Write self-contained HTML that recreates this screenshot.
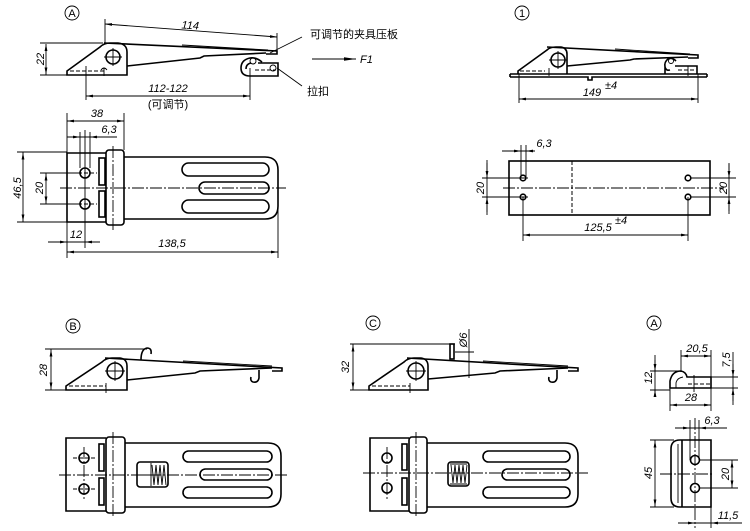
<!DOCTYPE html>
<html><head><meta charset="utf-8"><style>
html,body{margin:0;padding:0;background:#fff;}
svg{display:block;}
text{font-family:"Liberation Sans","Noto Sans CJK SC",sans-serif;font-size:11px;fill:#000;}
.i{font-style:italic;}
.o{fill:none;stroke:#000;stroke-width:1.6;}
.d{fill:none;stroke:#000;stroke-width:0.9;}
.c{fill:none;stroke:#000;stroke-width:0.9;stroke-dasharray:12 2 2 2;}
.h{fill:none;stroke:#000;stroke-width:1;stroke-dasharray:4 2;}
.w{fill:#fff;stroke:#000;stroke-width:1.6;}
</style></head><body>
<svg width="750" height="531" viewBox="0 0 750 531" xmlns="http://www.w3.org/2000/svg">
<defs>
<marker id="a" viewBox="0 0 10 10" refX="10" refY="5" markerWidth="7" markerHeight="7" orient="auto-start-reverse" markerUnits="userSpaceOnUse"><path d="M0,3 L10,5 L0,7 Z" fill="#000"/></marker>
<marker id="b" viewBox="0 0 10 10" refX="10" refY="5" markerWidth="12" markerHeight="12" orient="auto" markerUnits="userSpaceOnUse"><path d="M0,3.5 L10,5 L0,6.5 Z" fill="#000"/></marker>
</defs>

<!-- ========== TOP-LEFT SIDE VIEW (A) ========== -->
<circle cx="72" cy="13" r="7" class="d" stroke-width="1.1"/>
<text x="72" y="17" text-anchor="middle" font-size="11">A</text>
<path class="o" d="M67,75 L67,71 L100,47 Q104,43 110,43 L118,43 Q127,44 127,52 L127,75 Z"/>
<circle cx="113" cy="57" r="7" class="o"/>
<path class="d" d="M113,48 V66 M104,57 H122"/>
<path class="h" d="M70,71 H104"/>
<path class="d" d="M104,68 V76 M101,70 Q104,66 107,70"/>
<path class="o" d="M104,43 L277,51 L277,54 L266,54"/>
<path class="d" d="M182,45 L268,50"/>
<path class="o" d="M127,66 L200,58 L204,56 L266,53"/>
<path class="o" d="M262,62 Q256,57 250,58 Q241,60 241,68 Q241,76 250,76 L278,76 L278,63 L258,63"/>
<path class="o" d="M246,69 Q246,64 251,63"/>
<circle cx="253" cy="61" r="3" class="d"/>
<circle cx="273" cy="68" r="3" class="d"/>
<path class="h" d="M255,70 H276"/>
<path class="d" d="M40,43 H103 M40,75 H67"/>
<line x1="46" y1="44" x2="46" y2="74.5" class="d" marker-start="url(#a)" marker-end="url(#a)"/>
<text class="i" transform="translate(44,59) rotate(-90)" text-anchor="middle">22</text>
<path class="d" d="M105,19 V44 M277,33 V51"/>
<line x1="105" y1="24" x2="277" y2="37" class="d" marker-start="url(#a)" marker-end="url(#a)"/>
<text class="i" transform="translate(190,29) rotate(4)" text-anchor="middle">114</text>
<path class="d" d="M86,66 V100 M250,68 V100"/>
<line x1="86" y1="96" x2="250" y2="96" class="d" marker-start="url(#a)" marker-end="url(#a)"/>
<text class="i" x="168" y="92" text-anchor="middle">112-122</text>
<text x="168" y="108" text-anchor="middle">(可调节)</text>
<path class="d" d="M302,37 L270,53"/>
<text x="310" y="38" font-size="12">可调节的夹具压板</text>
<line x1="312" y1="59" x2="356" y2="59" class="d" stroke-width="1.4" marker-end="url(#b)"/>
<text class="i" x="360" y="63">F1</text>
<path class="d" d="M302,86 L277,68"/>
<text x="307" y="95" font-size="12">拉扣</text>

<!-- ========== TOP-LEFT PLAN ========== -->
<path class="o" d="M107,153 H67 V222 H107"/>
<rect x="106" y="150" width="18" height="75" rx="3" class="w"/>
<path class="o" d="M124,157 H265 Q278,157 278,170 V206 Q278,219 265,219 H124"/>
<rect x="182" y="163" width="87" height="13" rx="6.5" class="o"/>
<rect x="199" y="182" width="70" height="12" rx="6" class="o"/>
<rect x="182" y="200" width="87" height="13" rx="6.5" class="o"/>
<rect x="99" y="158" width="6" height="27" class="o" stroke-width="1.1"/>
<rect x="99" y="191" width="6" height="26" class="o" stroke-width="1.1"/>
<circle cx="85" cy="173" r="5" class="o"/>
<circle cx="85" cy="204" r="5" class="o"/>
<path class="h" d="M78,173 H97 M78,204 H97"/>
<path class="c" d="M60,188 H286"/>
<path class="c" d="M113,146 V231"/>
<path class="d" d="M85,130 V248"/>
<path class="d" d="M80,132 V168 M90,132 V168"/>
<path class="d" d="M67,113 V258 M124,113 V150"/>
<line x1="67" y1="121" x2="124" y2="121" class="d" marker-start="url(#a)" marker-end="url(#a)"/>
<text class="i" x="97" y="117" text-anchor="middle">38</text>
<path class="d" d="M67,137 H117"/>
<line x1="70" y1="137" x2="80" y2="137" class="d" marker-end="url(#a)"/>
<line x1="100" y1="137" x2="90" y2="137" class="d" marker-end="url(#a)"/>
<text class="i" x="109" y="133" text-anchor="middle">6,3</text>
<path class="d" d="M17,152 H67 M17,222 H67"/>
<line x1="23" y1="152.5" x2="23" y2="221.5" class="d" marker-start="url(#a)" marker-end="url(#a)"/>
<text class="i" transform="translate(21,188) rotate(-90)" text-anchor="middle">46,5</text>
<path class="d" d="M40,173 H80 M40,204 H80"/>
<line x1="46" y1="173.5" x2="46" y2="203.5" class="d" marker-start="url(#a)" marker-end="url(#a)"/>
<text class="i" transform="translate(43,188) rotate(-90)" text-anchor="middle">20</text>
<path class="d" d="M48,242 H100"/>
<line x1="52" y1="242" x2="67" y2="242" class="d" marker-end="url(#a)"/>
<line x1="98" y1="242" x2="85" y2="242" class="d" marker-end="url(#a)"/>
<text class="i" x="76" y="238" text-anchor="middle">12</text>
<path class="d" d="M278,200 V258"/>
<line x1="67" y1="252" x2="278" y2="252" class="d" marker-start="url(#a)" marker-end="url(#a)"/>
<text class="i" x="172" y="247" text-anchor="middle">138,5</text>

<!-- ========== TOP-RIGHT SIDE VIEW (1) ========== -->
<circle cx="522" cy="13" r="7" class="d" stroke-width="1.1"/>
<text x="522" y="17" text-anchor="middle" font-size="11">1</text>
<path class="o" d="M510,74 H707 M510,77 H588 V80 H592 V77 H707 M510,74 V77 M707,74 V77"/>
<path class="o" d="M518,74 L518,71 L547,50 Q550,47 556,47 L561,47 Q567,48 567,54 L567,74"/>
<circle cx="558" cy="60" r="7" class="o"/>
<path class="d" d="M558,51 V69 M549,60 H567"/>
<path class="h" d="M520,71 H545"/>
<path class="d" d="M549,68 V76"/>
<path class="o" d="M547,47 L698,55 L698,58 L688,58"/>
<path class="d" d="M615,49 L690,54"/>
<path class="o" d="M567,66 L630,60 L634,59 L688,57"/>
<path class="o" d="M676,61 Q672,57 668,59 Q664,62 665,67 Q666,71 670,70 M665,67 L665,74"/>
<circle cx="671" cy="61" r="2.5" class="d"/>
<path class="o" d="M675,66 H697 V74"/>
<path class="h" d="M678,70 H696"/>
<path class="d" d="M688,66 V76"/>
<path class="d" d="M519,74 V103 M698,74 V103"/>
<line x1="519" y1="99" x2="698" y2="99" class="d" marker-start="url(#a)" marker-end="url(#a)"/>
<text class="i" x="592" y="96" text-anchor="middle">149</text>
<text class="i" x="605" y="89" font-size="8">±4</text>

<!-- ========== RIGHT PLAN ========== -->
<rect x="509" y="161" width="201" height="54" class="o"/>
<path class="h" d="M572,161 V215"/>
<circle cx="523" cy="178" r="2.8" class="o"/>
<circle cx="523" cy="197" r="2.8" class="o"/>
<circle cx="688" cy="178" r="2.8" class="o"/>
<circle cx="688" cy="197" r="2.8" class="o"/>
<path class="c" d="M503,188 H724"/>
<path class="d" d="M521,145 V178 M526,145 V178 M502,151 H535"/>
<line x1="506" y1="151" x2="521" y2="151" class="d" marker-end="url(#a)"/>
<line x1="535" y1="151" x2="526" y2="151" class="d" marker-end="url(#a)"/>
<text class="i" x="544" y="147" text-anchor="middle">6,3</text>
<path class="d" d="M482,178 H528 M482,197 H528 M487,160 V215"/>
<line x1="487" y1="163" x2="487" y2="178" class="d" marker-end="url(#a)"/>
<line x1="487" y1="212" x2="487" y2="197" class="d" marker-end="url(#a)"/>
<text class="i" transform="translate(484,188) rotate(-90)" text-anchor="middle">20</text>
<path class="d" d="M690,178 H736 M690,197 H736 M729,163 V214"/>
<line x1="729" y1="164" x2="729" y2="178" class="d" marker-end="url(#a)"/>
<line x1="729" y1="211" x2="729" y2="197" class="d" marker-end="url(#a)"/>
<text class="i" transform="translate(727,188) rotate(-90)" text-anchor="middle">20</text>
<path class="d" d="M523,197 V241 M688,197 V241"/>
<line x1="523" y1="235" x2="688" y2="235" class="d" marker-start="url(#a)" marker-end="url(#a)"/>
<text class="i" x="598" y="231" text-anchor="middle">125,5</text>
<text class="i" x="615" y="224" font-size="8">±4</text>

<!-- ========== B SIDE ========== -->
<circle cx="73" cy="326" r="7" class="d" stroke-width="1.1"/>
<text x="73" y="330" text-anchor="middle" font-size="11">B</text>
<path class="o" d="M66,390 L66,386 L102,362 Q106,358 112,358 L120,358 Q127,359 127,366 L127,390 Z"/>
<circle cx="115" cy="371" r="8" class="o"/>
<path class="d" d="M115,361 V381 M105,371 H125"/>
<path class="h" d="M69,386 H106"/>
<path class="d" d="M106,383 V393"/>
<path class="o" d="M105,358 L282,368 L282,371 L272,371"/>
<path class="d" d="M183,361 L272,366"/>
<path class="o" d="M127,380 L195,373 L200,371 L272,368"/>
<path class="o" d="M141,360 Q141,349 147,348 Q152,348 151,354"/>
<path class="o" d="M259,370 L259,378 Q258,383 253,382 Q250,381 251,377"/>
<path class="d" d="M45,349 H147 M45,390 H66"/>
<line x1="51" y1="349.5" x2="51" y2="389.5" class="d" marker-start="url(#a)" marker-end="url(#a)"/>
<text class="i" transform="translate(47,370) rotate(-90)" text-anchor="middle">28</text>

<!-- ========== B PLAN ========== -->
<path class="o" d="M106,438 H66 V511 H106"/>
<rect x="106" y="437" width="19" height="76" rx="3" class="w"/>
<path class="o" d="M125,443 H268 Q281,443 281,456 V494 Q281,507 268,507 H125"/>
<rect x="183" y="451" width="89" height="11" rx="5.5" class="o"/>
<rect x="200" y="469" width="72" height="11" rx="5.5" class="o"/>
<rect x="183" y="487" width="89" height="11" rx="5.5" class="o"/>
<rect x="99" y="444" width="5" height="27" class="o" stroke-width="1.1"/>
<rect x="99" y="478" width="5" height="27" class="o" stroke-width="1.1"/>
<circle cx="84" cy="458" r="5" class="o"/>
<circle cx="84" cy="489" r="5" class="o"/>
<path class="h" d="M73,458 H97 M73,489 H97"/>
<path class="c" d="M84,447 V501"/>
<path class="c" d="M113,432 V518"/>
<rect x="137" y="462" width="31" height="25" rx="3" class="w"/>
<path class="d" d="M151,463 V486 M141,475 H149"/>
<polyline class="d" points="152,465 154,485 156,465 158,485 160,465 162,485 164,465 166,485"/>
<path class="c" d="M59,475 H289"/>

<!-- ========== C SIDE ========== -->
<circle cx="373" cy="323" r="7" class="d" stroke-width="1.1"/>
<text x="373" y="327" text-anchor="middle" font-size="11">C</text>
<path class="o" d="M369,390 L369,386 L404,362 Q408,358 414,358 L421,358 Q428,359 428,366 L428,390 Z"/>
<circle cx="416" cy="371" r="8" class="o"/>
<path class="d" d="M416,361 V381 M406,371 H426"/>
<path class="h" d="M372,386 H410"/>
<path class="d" d="M410,383 V393"/>
<path class="o" d="M407,358 L578,368 L578,371 L568,371"/>
<path class="d" d="M483,361 L568,366"/>
<path class="o" d="M428,379 L495,373 L500,371 L568,368"/>
<rect x="450" y="344" width="4" height="15" class="w"/>
<path class="o" d="M557,370 L557,378 Q556,383 551,382 Q548,381 549,377"/>
<path class="d" d="M350,344 H455 M350,390 H369"/>
<line x1="353" y1="344.5" x2="353" y2="389.5" class="d" marker-start="url(#a)" marker-end="url(#a)"/>
<text class="i" transform="translate(349,367) rotate(-90)" text-anchor="middle">32</text>
<path class="d" d="M455,352 H474 M469,329 V378"/>
<text class="i" transform="translate(467,340) rotate(-90)" text-anchor="middle">Ø6</text>

<!-- ========== C PLAN ========== -->
<path class="o" d="M409,438 H370 V511 H409"/>
<rect x="409" y="437" width="18" height="76" rx="3" class="w"/>
<path class="o" d="M427,443 H565 Q578,443 578,456 V494 Q578,507 565,507 H427"/>
<rect x="483" y="451" width="87" height="11" rx="5.5" class="o"/>
<rect x="502" y="469" width="68" height="11" rx="5.5" class="o"/>
<rect x="483" y="487" width="87" height="11" rx="5.5" class="o"/>
<rect x="402" y="444" width="5" height="26" class="o" stroke-width="1.1"/>
<rect x="402" y="478" width="5" height="27" class="o" stroke-width="1.1"/>
<circle cx="387" cy="458" r="5" class="o"/>
<circle cx="387" cy="488" r="5" class="o"/>
<path class="c" d="M387,447 V500"/>
<path class="c" d="M416,432 V518"/>
<rect x="448" y="462" width="21" height="24" rx="3" class="w"/>
<polyline class="d" points="451,465 453,483 455,465 457,483 459,465 461,483 463,465 465,483 467,465"/>
<path class="d" d="M450,464 H467 M450,484 H467"/>
<path class="c" d="M363,473 H588"/>

<!-- ========== A DETAIL (right) ========== -->
<circle cx="654" cy="323" r="7" class="d" stroke-width="1.1"/>
<text x="654" y="327" text-anchor="middle" font-size="11">A</text>
<path class="o" d="M711,377 L687,377 Q686,372 681,371 Q672,371 670,381 L670,388 L711,388 Z"/>
<path class="d" d="M676,388 L676,383 Q677,378 683,377"/>
<path class="h" d="M688,384 H711"/>
<path class="d" d="M694,375 V392"/>
<path class="d" d="M681,350 V372 M711,350 V390"/>
<line x1="681" y1="356" x2="711" y2="356" class="d" marker-start="url(#a)" marker-end="url(#a)"/>
<text class="i" x="697" y="352" text-anchor="middle">20,5</text>
<path class="d" d="M711,377 H738 M711,388 H738 M733,352 V405"/>
<line x1="733" y1="364" x2="733" y2="377" class="d" marker-end="url(#a)"/>
<line x1="733" y1="401" x2="733" y2="388" class="d" marker-end="url(#a)"/>
<text class="i" transform="translate(730,360) rotate(-90)" text-anchor="middle">7,5</text>
<path class="d" d="M650,371 H681 M650,390 H670 M655,355 V397"/>
<line x1="655" y1="360" x2="655" y2="371" class="d" marker-end="url(#a)"/>
<line x1="655" y1="397" x2="655" y2="390" class="d" marker-end="url(#a)"/>
<text class="i" transform="translate(652,378) rotate(-90)" text-anchor="middle">12</text>
<path class="d" d="M670,388 V411 M711,390 V411"/>
<line x1="670" y1="405" x2="711" y2="405" class="d" marker-start="url(#a)" marker-end="url(#a)"/>
<text class="i" x="691" y="401" text-anchor="middle">28</text>
<path class="o" d="M711,440 L680,440 Q671,440 671,449 L671,498 Q671,507 680,507 L711,507 Z"/>
<path class="d" d="M678,444 V503"/>
<path class="o" d="M682,440 V507"/>
<circle cx="695" cy="460" r="4.5" class="o"/>
<circle cx="695" cy="488" r="4.5" class="o"/>
<path class="c" d="M695,418 V528"/>
<path class="c" d="M660,474 H712"/>
<path class="h" d="M700,460 H711 M700,488 H711"/>
<path class="d" d="M650,440 H674 M650,507 H674"/>
<line x1="655" y1="440.5" x2="655" y2="506.5" class="d" marker-start="url(#a)" marker-end="url(#a)"/>
<text class="i" transform="translate(652,473) rotate(-90)" text-anchor="middle">45</text>
<path class="d" d="M700,460 H738 M700,488 H738"/>
<line x1="732" y1="460.5" x2="732" y2="487.5" class="d" marker-start="url(#a)" marker-end="url(#a)"/>
<text class="i" transform="translate(729,474) rotate(-90)" text-anchor="middle">20</text>
<path class="d" d="M690,420 V460 M699,420 V460 M675,428 H727"/>
<line x1="678" y1="428" x2="690" y2="428" class="d" marker-end="url(#a)"/>
<line x1="712" y1="428" x2="699" y2="428" class="d" marker-end="url(#a)"/>
<text class="i" x="712" y="424" text-anchor="middle">6,3</text>
<path class="d" d="M711,507 V528 M678,523 H742"/>
<line x1="683" y1="523" x2="695" y2="523" class="d" marker-end="url(#a)"/>
<line x1="724" y1="523" x2="711" y2="523" class="d" marker-end="url(#a)"/>
<text class="i" x="728" y="519" text-anchor="middle">11,5</text>
</svg>
</body></html>
